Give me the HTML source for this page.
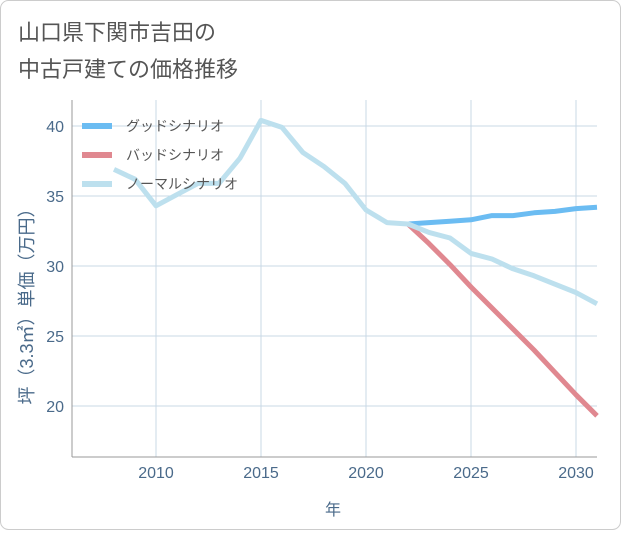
<!DOCTYPE html>
<html><head><meta charset="utf-8">
<style>
body{margin:0;background:#fff;font-family:"Liberation Sans","Noto Sans CJK JP",sans-serif;}
#wrap{position:relative;width:621px;height:530px;}
</style></head>
<body>
<div id="wrap">
<svg id="chart" width="621" height="530">
<rect x="0.5" y="0.5" width="620" height="529" rx="8" fill="#fff" stroke="#ccc"/>
<text x="18" y="40" font-size="22" fill="#555">山口県下関市吉田の</text>
<text x="18" y="77" font-size="22" fill="#555">中古戸建ての価格推移</text>
<g id="grid"></g>
<g id="series"></g>
<g id="legend"></g>
<text transform="translate(33,302) rotate(-90)" text-anchor="middle" font-size="18" fill="#4a6a8a">坪（3.3㎡）単価（万円）</text>
<text x="333" y="515" text-anchor="middle" font-size="16" fill="#4a6a8a">年</text>
</svg>
</div>
<script>
const xTicks=[2010,2015,2020,2025,2030];
const yTicks=[20,25,30,35,40];
const normalYears=[2008,2009,2010,2011,2012,2013,2014,2015,2016,2017,2018,2019,2020,2021,2022,2023,2024,2025,2026,2027,2028,2029,2030,2031];
const normalVals=[36.9,36.2,34.3,35.1,35.9,35.9,37.7,40.4,39.9,38.1,37.1,35.9,34.0,33.1,33.0,32.4,32.0,30.9,30.5,29.8,29.3,28.7,28.1,27.3];
const goodYears=[2022,2023,2024,2025,2026,2027,2028,2029,2030,2031];
const goodVals=[33.0,33.1,33.2,33.3,33.6,33.6,33.8,33.9,34.1,34.2];
const badYears=[2022,2023,2024,2025,2026,2027,2028,2029,2030,2031];
const badVals=[33.0,31.6,30.1,28.5,27.0,25.5,24.0,22.4,20.8,19.3];
const L=72,R=597,T=100,B=457;
const xs=y=>156+(y-2010)*21;
const ys=v=>126+(40-v)*14;
const NS="http://www.w3.org/2000/svg";
function mk(t,a,p){const e=document.createElementNS(NS,t);for(const k in a)e.setAttribute(k,a[k]);p.appendChild(e);return e;}
const grid=document.getElementById('grid');
xTicks.forEach(t=>{
 const l=mk('line',{x1:xs(t),x2:xs(t),y1:T,y2:B,stroke:'#c8d8e6','stroke-width':1},grid);
 
 
 const tx=mk('text',{x:xs(t),y:478,'text-anchor':'middle','font-size':16,fill:'#4a6a8a'},grid);
 tx.textContent=t;
 
 
});
yTicks.forEach(t=>{
 const l=mk('line',{x1:L,x2:R,y1:ys(t),y2:ys(t),stroke:'#c8d8e6','stroke-width':1},grid);
 
 
 const tx=mk('text',{x:64,y:ys(t)+6,'text-anchor':'end','font-size':16,fill:'#4a6a8a'},grid);
 tx.textContent=t;
 
 
});
const ax=mk('line',{x1:L,x2:L,y1:T,y2:B,stroke:'#999','stroke-width':1},grid);


const bx=mk('line',{x1:L,x2:R,y1:B,y2:B,stroke:'#999','stroke-width':1},grid);


const ser=document.getElementById('series');
function line(yrs,vals,color,name){
 const pts=yrs.map((y,i)=>xs(y)+','+ys(vals[i])).join(' ');
 const p=mk('polyline',{points:pts,fill:'none',stroke:color,'stroke-width':5,'stroke-linejoin':'round'},ser);
 
 
}
line(badYears,badVals,'#e08890','bad-scenario-line');
line(goodYears,goodVals,'#6bbcf2','good-scenario-line');
line(normalYears,normalVals,'#bde0ee','normal-scenario-line');
const leg=document.getElementById('legend');
[['グッドシナリオ','#6bbcf2','legend-good'],['バッドシナリオ','#e08890','legend-bad'],['ノーマルシナリオ','#bde0ee','legend-normal']].forEach((d,i)=>{
 const y=126+i*29;
 const g=mk('g',{},leg);
 
 
 mk('line',{x1:82,x2:112,y1:y,y2:y,stroke:d[1],'stroke-width':6},g);
 const t=mk('text',{x:126,y:y+5,'font-size':14,fill:'#555'},g);
 t.textContent=d[0];
});
</script>
</body></html>
